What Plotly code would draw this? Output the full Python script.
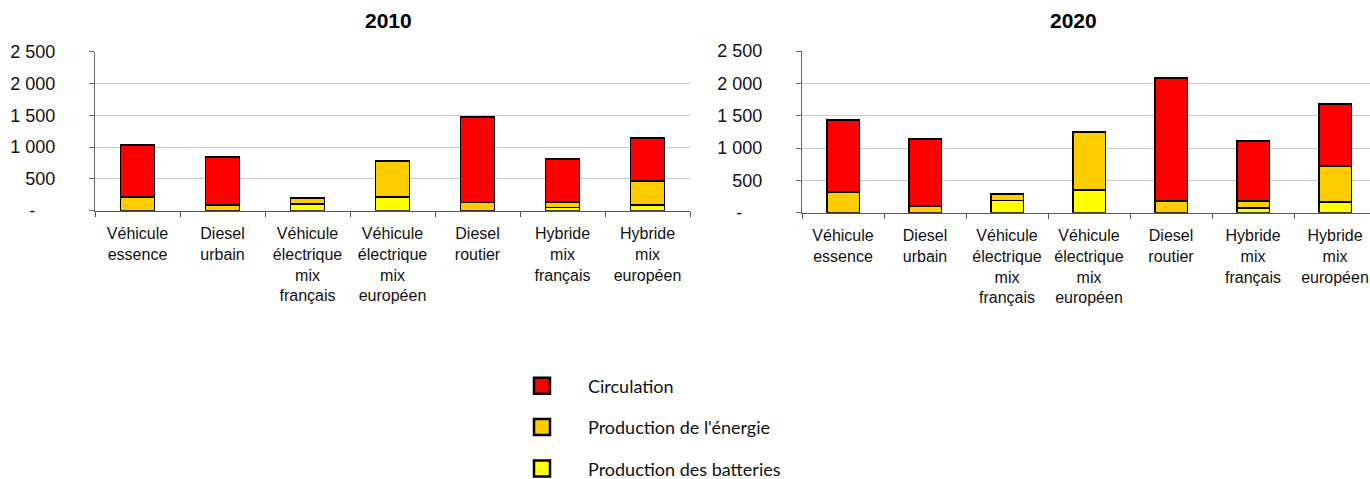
import plotly.graph_objects as go

categories = ["Véhicule<br>essence", "Diesel<br>urbain",
              "Véhicule<br>électrique<br>mix<br>français",
              "Véhicule<br>électrique<br>mix<br>européen",
              "Diesel<br>routier", "Hybride<br>mix<br>français",
              "Hybride<br>mix<br>européen"]

batteries_2010 = [0, 0, 110, 220, 0, 50, 90]
energie_2010 = [220, 85, 85, 560, 130, 85, 380]
circulation_2010 = [810, 755, 0, 0, 1345, 675, 670]

batteries_2020 = [0, 0, 190, 350, 0, 77, 160]
energie_2020 = [320, 108, 105, 900, 180, 103, 567]
circulation_2020 = [1118, 1031, 0, 0, 1908, 933, 953]

series_names = ["Circulation", "Production de l'énergie", "Production des batteries"]
colors = {"Circulation": "#FF0000", "Production de l'énergie": "#FFCC00",
          "Production des batteries": "#FFFF00"}

tick_vals = [0, 500, 1000, 1500, 2000, 2500]
tick_text = ["-\u00a0\u00a0\u00a0\u00a0", "500", "1 000", "1 500", "2 000", "2 500"]

W, H = 1370, 479
fig = go.Figure()

panels = [
    ("x", "y", {"Production des batteries": batteries_2010,
                "Production de l'énergie": energie_2010,
                "Circulation": circulation_2010}),
    ("x2", "y2", {"Production des batteries": batteries_2020,
                  "Production de l'énergie": energie_2020,
                  "Circulation": circulation_2020}),
]
for xa, ya, data in panels:
    for name in ["Production des batteries", "Production de l'énergie", "Circulation"]:
        fig.add_trace(go.Bar(x=categories, y=data[name], name=name, xaxis=xa, yaxis=ya,
                             marker=dict(color=colors[name], line=dict(color="black", width=1.8)),
                             showlegend=False, hoverinfo="skip"))

# legend entries
for i, name in enumerate(series_names):
    fig.add_trace(go.Scatter(x=[None], y=[None], mode="markers", name=name,
                             legendgroup=name,
                             marker=dict(symbol="square", size=16, color=colors[name],
                                         line=dict(color="black", width=2.5))))

axis_font = dict(family="Liberation Sans, Arial", size=18, color="#111111")
cat_font = dict(family="Liberation Sans, Arial", size=16, color="#111111")

def ydict(domain, anchor):
    return dict(domain=domain, range=[0, 2500], anchor=anchor, tickvals=tick_vals,
                ticktext=tick_text,
                tickfont=axis_font, showgrid=True, gridcolor="#c8c8c8", gridwidth=1,
                showline=True, linecolor="#666666", linewidth=1.2, ticks="outside",
                ticklen=5, tickcolor="#666666", zeroline=False, ticklabelstandoff=30,
                fixedrange=True)

def xdict(domain, rng, anchor):
    return dict(domain=domain, range=rng, anchor=anchor, type="category", tickfont=cat_font,
                showline=True, linecolor="#555555", linewidth=1.2, ticks="outside",
                tickson="boundaries", ticklen=5, tickcolor="#555555", showgrid=False,
                ticklabelstandoff=8, fixedrange=True)

fig.update_layout(
    width=W, height=H, margin=dict(l=0, r=0, t=0, b=0, autoexpand=False),
    paper_bgcolor="white", plot_bgcolor="white",
    barmode="stack", bargap=0.6,
    xaxis=xdict([95 / W, 690 / W], [-0.5, 6.5], "y"),
    yaxis=ydict([1 - 210.7 / H, 1 - 51.7 / H], "x"),
    xaxis2=xdict([802 / W, 1.0], [-0.5, 6.5 - 6 / 82], "y2"),
    yaxis2=ydict([1 - 212.7 / H, 1 - 51 / H], "x2"),
    legend=dict(x=496 / W, y=1 - 367.5 / H, xanchor="left", yanchor="top",
                font=dict(family="Lato", size=18, color="#111111"),
                traceorder="grouped", tracegroupgap=15, itemwidth=82,
                bgcolor="rgba(0,0,0,0)"),
    annotations=[
        dict(text="<b>2010</b>", x=388 / W, y=1 - 21 / H, xref="paper", yref="paper",
             xanchor="center", yanchor="middle", showarrow=False,
             font=dict(family="Liberation Sans, Arial", size=21, color="black")),
        dict(text="<b>2020</b>", x=1073 / W, y=1 - 21 / H, xref="paper", yref="paper",
             xanchor="center", yanchor="middle", showarrow=False,
             font=dict(family="Liberation Sans, Arial", size=21, color="black")),
    ],
)

fig.write_html("out.html", config={"displayModeBar": False},
               post_script="document.body.style.margin='0';")
